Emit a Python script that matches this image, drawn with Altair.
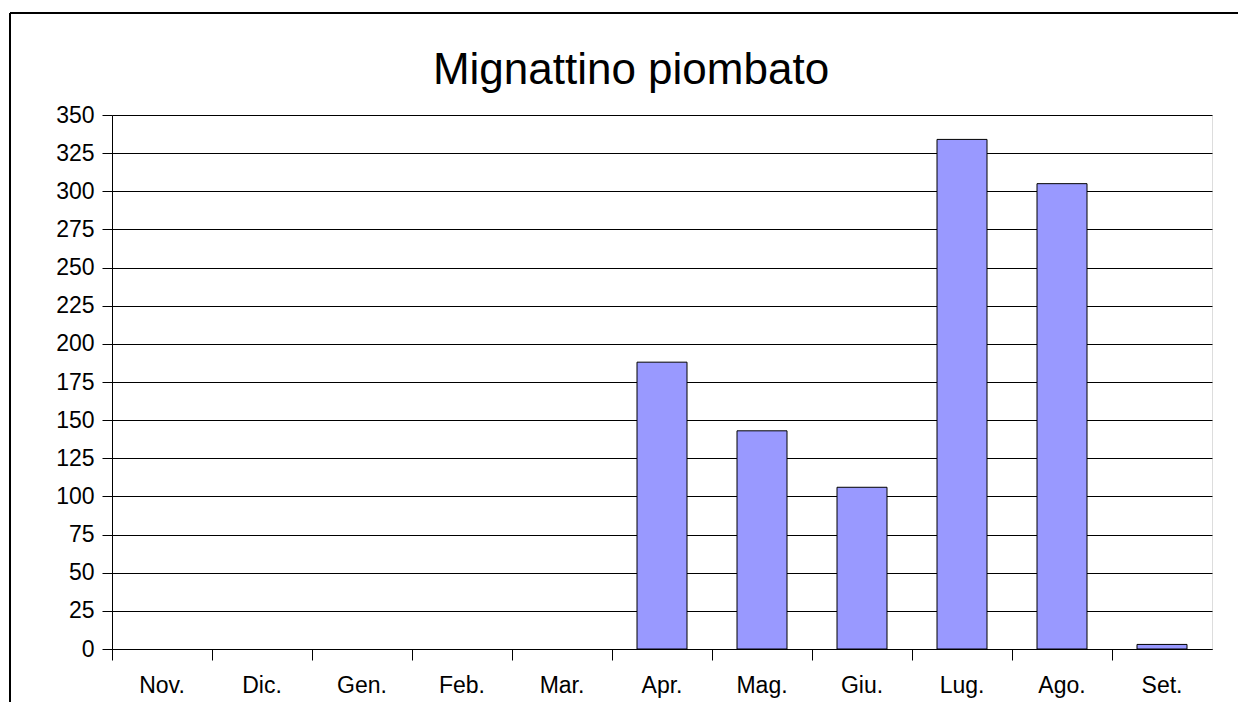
import altair as alt
import pandas as pd

months = ["Nov.", "Dic.", "Gen.", "Feb.", "Mar.", "Apr.", "Mag.", "Giu.", "Lug.", "Ago.", "Set."]
values = [0, 0, 0, 0, 0, 188, 143, 106, 334, 305, 3]
y_ticks = list(range(0, 351, 25))
title_text = "Mignattino piombato"

df = pd.DataFrame({"mese": months, "valore": values})

FONT = "Liberation Sans"

bars = alt.Chart(df).mark_bar(
    width=alt.RelativeBandSize(0.5),
    fill="#9999FF",
    stroke="black",
    strokeWidth=1,
).encode(
    x=alt.X(
        "mese:N",
        sort=months,
        scale=alt.Scale(paddingInner=0, paddingOuter=0),
        axis=alt.Axis(
            title=None,
            bandPosition=0,
            labelAngle=0,
            tickSize=11,
            tickColor="black",
            domainColor="black",
            labelFont=FONT,
            labelFontSize=23,
            labelColor="black",
            labelPadding=14,
            grid=False,
        ),
    ),
    y=alt.Y(
        "valore:Q",
        scale=alt.Scale(domain=[0, 350], nice=False),
        axis=alt.Axis(
            title=None,
            values=y_ticks,
            tickSize=10,
            tickColor="black",
            domainColor="black",
            labelFont=FONT,
            labelFontSize=23,
            labelColor="black",
            labelPadding=8,
            grid=True,
            gridColor="black",
            gridWidth=1,
            gridOpacity=1,
        ),
    ),
    strokeOpacity=alt.condition("datum.valore > 0", alt.value(1), alt.value(0)),
)

border_top = alt.Chart(df).mark_rule(color="black", strokeWidth=2).encode(
    x=alt.value(-102), x2=alt.value(1126), y=alt.value(-102)
)
border_left = alt.Chart(df).mark_rule(color="black", strokeWidth=2).encode(
    x=alt.value(-102), y=alt.value(-102), y2=alt.value(587)
)

title = alt.Chart(pd.DataFrame({"t": [title_text]})).mark_text(
    font=FONT, fontSize=44, color="black", align="center", baseline="alphabetic"
).encode(
    text="t:N",
    x=alt.value(519),
    y=alt.value(-31),
)

chart = alt.layer(bars, border_top, border_left, title).properties(
    width=1100,
    height=534,
    autosize=alt.AutoSizeParams(type="none"),
    padding={"left": 104, "top": 107, "right": 26, "bottom": 53},
).configure_view(stroke=None).configure(background="white")

chart.save("out.html", embed_options={"renderer": "svg", "actions": False})
